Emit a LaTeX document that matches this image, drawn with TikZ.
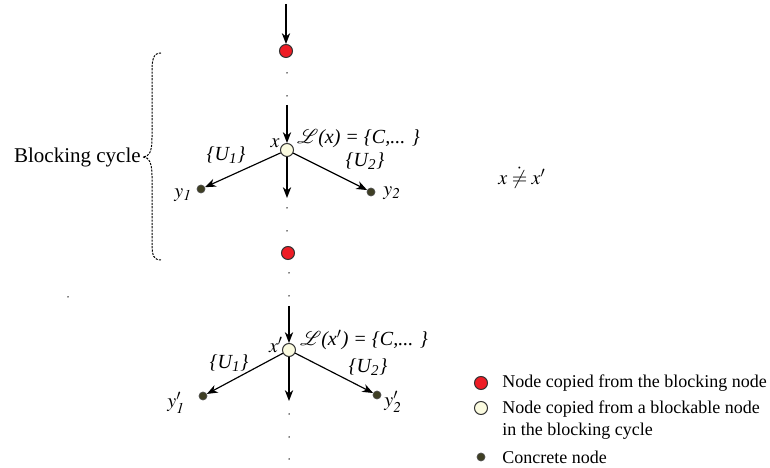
\documentclass[tikz,border=0pt]{standalone}
\usepackage{mathptmx}
\usepackage{fontspec}
\setmainfont{Liberation Serif}
\usepackage{xcolor}
\usetikzlibrary{arrows.meta}

\definecolor{blockred}{HTML}{EE1C25}
\definecolor{blockable}{HTML}{FBFBE0}
\definecolor{concrete}{HTML}{3F3F24}

\begin{document}
\begin{tikzpicture}[x=0.6pt, y=-0.6pt,
    copyb/.style={draw=black!80, circle, fill=blockred, inner sep=0pt, minimum size=7.8pt, line width=0.6pt},
    copyx/.style={draw=black!80, circle, fill=blockable, inner sep=0pt, minimum size=7.8pt, line width=0.6pt},
    conc/.style={draw=black!70, circle, fill=concrete, inner sep=0pt, minimum size=4.8pt, line width=0.4pt},
    vdot/.style={circle, fill=black, inner sep=0pt, minimum size=0.9pt},
    lbl/.style={font=\fontsize{12}{14}\selectfont\itshape, inner sep=1pt},
    legend/.style={font=\fontsize{10.8}{13.2}\selectfont, align=left, anchor=west, inner sep=0pt},
    arrow/.style={-{Stealth[length=6.5pt, width=5pt, inset=2pt]}, line width=0.7pt}
]
\useasboundingbox (0,0) rectangle (770,468);

% upper copy
\coordinate (start) at (286,4);
\node[copyb] (b1) at (286,51) {};
\foreach \y [count=\i] in {73,96} \node[vdot] (ua\i) at (287,\y) {};
\coordinate (inx) at (287,105);
\node[copyx] (x) at (287,150) {};
\node[conc] (y1) at (201,189) {};
\node[conc] (y2) at (371,192) {};
\coordinate (outx) at (287,198);
\foreach \y [count=\i] in {208,231} \node[vdot] (ub\i) at (287,\y) {};
\node[copyb] (b2) at (288,253) {};

\draw[arrow] (start) -- (b1);
\draw[arrow] (inx) -- (x);
\draw[arrow] (x) -- (y1);
\draw[arrow] (x) -- (y2);
\draw[arrow] (x) -- (outx);

\node[lbl] (xl) at (275,143) {$x$};
\node[lbl, anchor=west] (lx) at (295,139) {$\mathcal{L}$(x) = \{C,... \}};
\node[lbl] (u1) at (226,155) {\{U\textsubscript{1}\}};
\node[lbl] (u2) at (365,161) {\{U\textsubscript{2}\}};
\node[lbl] (y1l) at (183,195) {$y_{\mathit{1}}$};
\node[lbl] (y2l) at (392,193) {$y_{\mathit{2}}$};

% lower copy
\foreach \y [count=\i] in {273,296} \node[vdot] (la\i) at (289,\y) {};
\coordinate (inxp) at (289,306);
\node[copyx] (xp) at (289,350) {};
\node[conc] (y1p) at (203,396) {};
\node[conc] (y2p) at (377,395) {};
\coordinate (outxp) at (289,401);
\foreach \y [count=\i] in {414,437,459} \node[vdot] (lb\i) at (289,\y) {};

\draw[arrow] (inxp) -- (xp);
\draw[arrow] (xp) -- (y1p);
\draw[arrow] (xp) -- (y2p);
\draw[arrow] (xp) -- (outxp);

\node[lbl] (xpl) at (276,345) {$x'$};
\node[lbl, anchor=west] (lxp) at (298,340) {$\mathcal{L}$(x$'$) = \{C,... \}};
\node[lbl] (u1p) at (229,363) {\{U\textsubscript{1}\}};
\node[lbl] (u2p) at (368,367) {\{U\textsubscript{2}\}};
\node[lbl] (y1pl) at (176,403) {$y'_{\mathit{1}}$};
\node[lbl] (y2pl) at (393,402) {$y'_{\mathit{2}}$};

% blocking cycle brace
\node[font=\fontsize{12.6}{15}\selectfont, anchor=east, inner sep=0pt] (bc) at (141,157) {Blocking cycle};
\draw[dash pattern=on 1.3pt off 0.7pt, line width=0.6pt] (161,53) .. controls (153,53) and (152,60) .. (152,72) -- (152,138)
  .. controls (152,152) and (149,157) .. (143,157)
  .. controls (149,157) and (152,163) .. (152,176) -- (152,244)
  .. controls (152,256) and (154,260) .. (161,260);
\node[vdot] (stray) at (68,297) {};

\node[lbl] (neq) at (522,178) {$x \mathrel{\dot{\neq}} x'$};

% legend
\node[copyb] (kb) at (481,383) {};
\node[legend] (kbt) at (502,383) {Node copied from the blocking node};
\node[copyx] (kx) at (481,408) {};
\node[legend, anchor=north west] (kxt) at (502,400) {Node copied from a blockable node\\in the blocking cycle};
\node[conc] (kc) at (481,457) {};
\node[legend] (kct) at (502,457) {Concrete node};
\end{tikzpicture}
\end{document}
